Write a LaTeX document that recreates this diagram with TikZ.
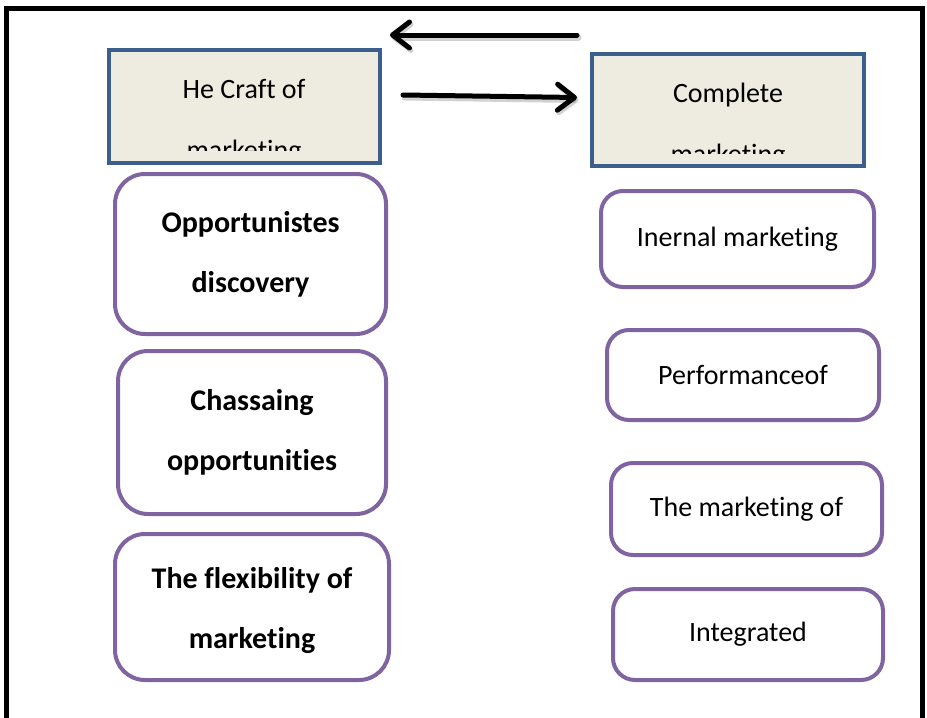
\documentclass[tikz,border=0pt]{standalone}
\usepackage{fontspec}
\setmainfont[Ligatures={NoCommon}]{Carlito}
\usetikzlibrary{arrows.meta}

\definecolor{headline}{HTML}{3C5E8C}
\definecolor{headfill}{HTML}{EEECE1}
\definecolor{lilac}{HTML}{8064A2}

\tikzset{
  headbox/.style={draw=headline, line width=4pt, fill=headfill, inner sep=0pt},
  headtext/.style={align=center, inner sep=0pt, font=\fontsize{28}{61}\selectfont},
  leftbox/.style={draw=lilac, line width=4pt, rounded corners=30pt, inner sep=0pt,
    align=center, font=\fontsize{30}{60}\selectfont\bfseries},
  rightbox/.style={draw=lilac, line width=4pt, rounded corners=22pt, inner sep=0pt,
    font=\fontsize{28}{34}\selectfont},
  flowarrow/.style={line width=5pt, line cap=round,
    -{Straight Barb[length=17pt, width=26pt, line width=5pt, round]}},
  flowshadow/.style={flowarrow, draw=black, opacity=0.18, line width=6pt},
}

\begin{document}
\begin{tikzpicture}[x=1pt, y=-1pt]
  \useasboundingbox (0,0) rectangle (927,718);

  % open outer frame
  \draw[line width=5pt] (6,730) -- (6,8.3) -- (922,8.3) -- (922,730);

  % heading boxes, their second text line cut off at the lower edge
  \node[headbox, minimum width=271pt, minimum height=113pt] (craft) at (244.5,106.5) {};
  \begin{scope}
    \clip (111,52) rectangle (378,150);
    \node[headtext] (crafttxt) at (244,122) {He Craft of\\marketing};
  \end{scope}

  \node[headbox, minimum width=272pt, minimum height=112pt] (complete) at (728,110) {};
  \begin{scope}
    \clip (594,56) rectangle (862,153);
    \node[headtext] (completetxt) at (728,126) {Complete\\marketing};
  \end{scope}

  % arrows between the headings
  \coordinate (backL) at (577,35);
  \coordinate (tipL) at (390,35);
  \coordinate (backR) at (403,95);
  \coordinate (tipR) at (577,97.5);
  \draw[flowshadow] ([shift={(1.5,2.5)}]backL) -- ([shift={(1.5,2.5)}]tipL);
  \draw[flowshadow] ([shift={(1.5,2.5)}]backR) -- ([shift={(1.5,2.5)}]tipR);
  \draw[flowarrow] (backL) -- (tipL);
  \draw[flowarrow] (backR) -- (tipR);

  % left column
  \node[leftbox, minimum width=271pt, minimum height=160pt] (discovery) at (250.5,254)
    {Opportunistes\\discovery};
  \node[leftbox, minimum width=268pt, minimum height=163pt] (chasing) at (252,432.5)
    {Chassaing\\opportunities};
  \node[leftbox, minimum width=274pt, minimum height=146pt] (flexibility) at (252,607)
    {\rule{0pt}{28pt}The flexibility of\\marketing};

  % right column
  \node[rightbox, minimum width=273pt, minimum height=96pt] (internal) at (737.5,239)
    {Inernal marketing};
  \node[rightbox, minimum width=272pt, minimum height=90pt] (performance) at (743,375)
    {Performanceof};
  \node[rightbox, minimum width=271pt, minimum height=92pt] (marketingof) at (746.5,509)
    {The marketing of};
  \node[rightbox, minimum width=270pt, minimum height=91pt] (integrated) at (748,634.5)
    {Integrated};
\end{tikzpicture}
\end{document}
